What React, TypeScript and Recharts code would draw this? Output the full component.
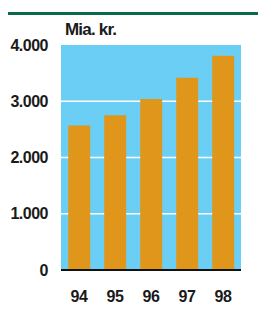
import React from 'react';
import { BarChart, Bar, XAxis, YAxis, CartesianGrid } from 'recharts';

const years = ['94', '95', '96', '97', '98'];
const values = [2570, 2750, 3040, 3420, 3810];
const yTicks = [0, 1000, 2000, 3000, 4000];
const unitLabel = 'Mia. kr.';

const data = years.map((y, i) => ({ year: y, value: values[i] }));

const fmt = (v: number) => {
  if (v === 0) return '0';
  const s = String(v);
  return s.slice(0, s.length - 3) + '.' + s.slice(s.length - 3);
};

const FONT = '"Liberation Sans", Arial, sans-serif';
const tickStyle = { fill: '#1a1a1a', fontFamily: FONT, fontWeight: 700, fontSize: 16, letterSpacing: -0.5 };

export default function App() {
  return (
    <div style={{ position: 'absolute', left: 0, top: 0, width: 258, height: 311, background: '#fff' }}>
      <div style={{ position: 'absolute', left: 8, top: 12, width: 250, height: 2.5, background: '#0a6a45' }} />
      <div
        style={{
          position: 'absolute',
          left: 65,
          top: 20.5,
          fontFamily: FONT,
          fontWeight: 700,
          fontSize: 17,
          letterSpacing: -0.8,
          lineHeight: '17px',
          color: '#1a1a1a',
          whiteSpace: 'nowrap',
        }}
      >
        {unitLabel}
      </div>
      <BarChart
        width={258}
        height={311}
        data={data}
        margin={{ top: 45, right: 17, bottom: 11, left: 0 }}
        barCategoryGap="20%"
      >
        <CartesianGrid
          vertical={false}
          fill="#6bcff5"
          stroke="#ffffff"
          strokeWidth={1.5}
          horizontalValues={[1000, 2000, 3000]}
        />
        <XAxis
          dataKey="year"
          height={30}
          tickLine={false}
          tickSize={0}
          tickMargin={21}
          axisLine={{ stroke: '#111', strokeWidth: 2 }}
          tick={tickStyle}
        />
        <YAxis
          width={61}
          domain={[0, 4000]}
          ticks={yTicks}
          tickFormatter={fmt}
          tickLine={false}
          axisLine={false}
          tickSize={0}
          tickMargin={13}
          tick={tickStyle}
        />
        <Bar dataKey="value" fill="#e0961a" isAnimationActive={false} />
      </BarChart>
    </div>
  );
}
